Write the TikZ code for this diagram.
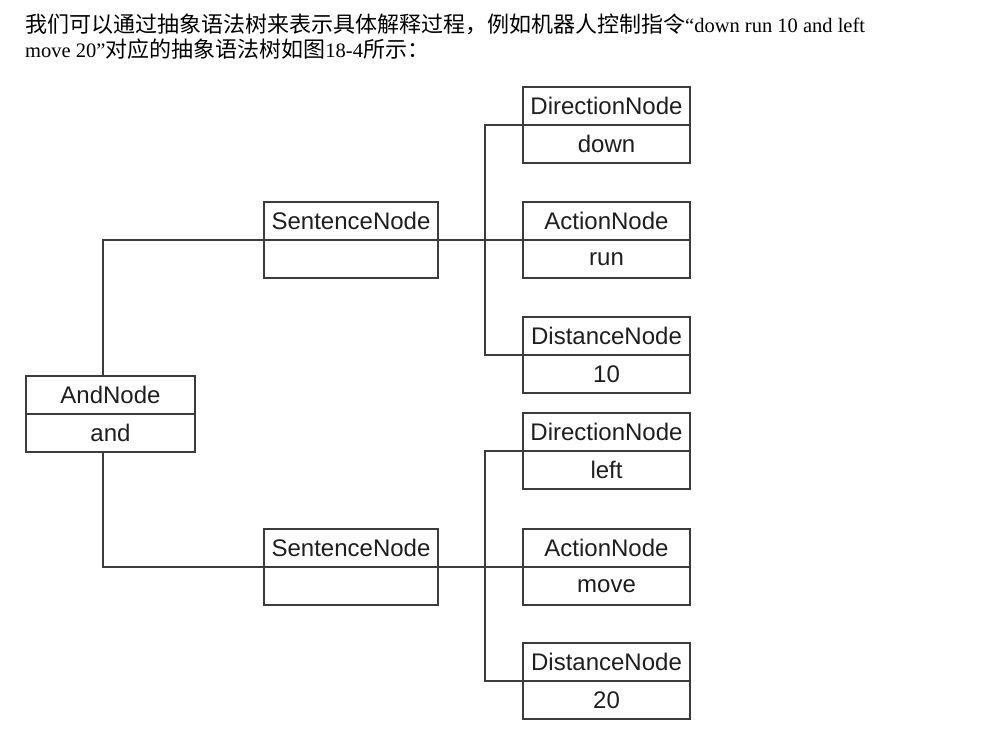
\documentclass[tikz,border=0pt]{standalone}
\usepackage{fontspec}
\setmainfont{Liberation Serif}
\setsansfont{Liberation Sans}
\newfontfamily\cjk{Noto Sans CJK SC}
\usetikzlibrary{positioning}
\definecolor{boxline}{RGB}{60,60,60}
\definecolor{boxtext}{RGB}{30,30,30}

\begin{document}
\begin{tikzpicture}[x=1pt,y=-1pt,
    cell/.style={draw=boxline,line width=1.2pt,minimum height=38pt,inner sep=0pt,outer sep=0pt,
      text=boxtext,font=\sffamily\fontsize{24}{28}\selectfont},
    leaf/.style={cell,minimum width=167pt},
    wire/.style={draw=boxline,line width=1.2pt}]
  \useasboundingbox (0,0) rectangle (995,742);
  % caption text
  \node[anchor=base west,inner sep=0pt,font=\fontsize{20.5}{24}\selectfont] (line1) at (25,32)
    {{\cjk\fontsize{22}{24}\selectfont 我们可以通过抽象语法树来表示具体解释过程，例如机器人控制指令}“down run 10 and left};
  \node[anchor=base west,inner sep=0pt,font=\fontsize{20.5}{24}\selectfont] (line2) at (25,57)
    {move 20”{\cjk\fontsize{22}{24}\selectfont 对应的抽象语法树如图}18-4{\cjk\fontsize{22}{24}\selectfont 所示：}};
  % root
  \node[cell,minimum width=169pt] (andN) at (110.5,395) {AndNode};
  \node[cell,minimum width=169pt,below=0pt of andN] (andV) {and};
  % sentences
  \node[cell,minimum width=174pt] (sen1) at (351,221) {SentenceNode};
  \node[cell,minimum width=174pt,below=0pt of sen1] (sen1v) {};
  \node[cell,minimum width=174pt] (sen2) at (351,548) {SentenceNode};
  \node[cell,minimum width=174pt,below=0pt of sen2] (sen2v) {};
  % leaves, first sentence
  \node[leaf] (dir1) at (606.5,106) {DirectionNode};
  \node[leaf,below=0pt of dir1] (dir1v) {down};
  \node[leaf] (act1) at (606.5,221) {ActionNode};
  \node[leaf,below=0pt of act1] (act1v) {run};
  \node[leaf] (dis1) at (606.5,336) {DistanceNode};
  \node[leaf,below=0pt of dis1] (dis1v) {10};
  % leaves, second sentence
  \node[leaf] (dir2) at (606.5,432) {DirectionNode};
  \node[leaf,below=0pt of dir2] (dir2v) {left};
  \node[leaf] (act2) at (606.5,548) {ActionNode};
  \node[leaf,below=0pt of act2] (act2v) {move};
  \node[leaf] (dis2) at (606.5,662) {DistanceNode};
  \node[leaf,below=0pt of dis2] (dis2v) {20};
  % connectors
  \draw[wire] ([xshift=-7.5pt]andN.north) |- (act1.south west);
  \draw[wire] ([xshift=-7.5pt]andV.south) |- (act2.south west);
  \draw[wire] (dir1.south west) -- ++(-38,0) |- (dis1.south west);
  \draw[wire] (dir2.south west) -- ++(-38,0) |- (dis2.south west);
\end{tikzpicture}
\end{document}
